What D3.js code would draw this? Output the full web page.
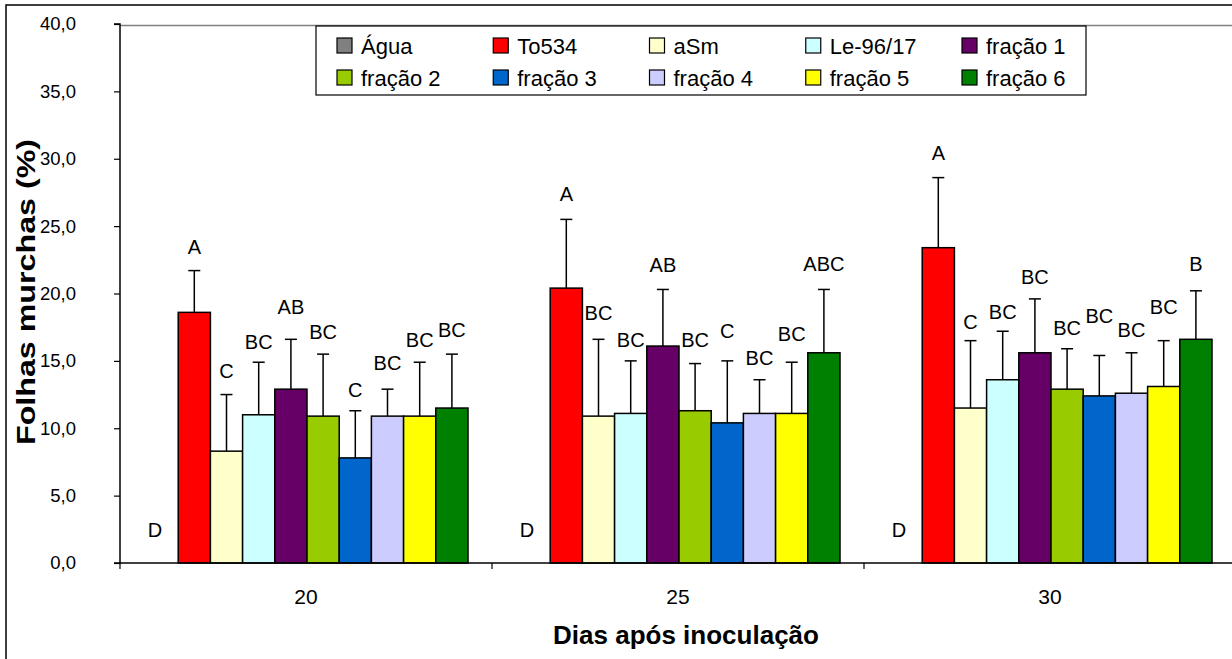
<!DOCTYPE html>
<html>
<head>
<meta charset="utf-8">
<script src="https://cdn.jsdelivr.net/npm/d3@7"></script>
<style>
  html, body { margin: 0; padding: 0; background: #fff; }
  svg { display: block; }
  text { font-family: "Liberation Sans", Arial, sans-serif; fill: #000; }
</style>
</head>
<body>
<svg id="chart" width="1232" height="659"></svg>
<script>
// Days after inoculation (groups)
const days = ["20", "25", "30"];

// Treatments (series)
const treatments = ["Água", "To534", "aSm", "Le-96/17", "fração 1",
                    "fração 2", "fração 3", "fração 4", "fração 5", "fração 6"];
const colors = ["#808080", "#FF0000", "#FFFFCC", "#CCFFFF", "#660066",
                "#99CC00", "#0066CC", "#CCCCFF", "#FFFF00", "#008000"];

// Wilted leaves (%) per treatment, one array per day
const wilt20 = [0, 18.6, 8.3, 11.0, 12.9, 10.9, 7.8, 10.9, 10.9, 11.5];
const wilt25 = [0, 20.4, 10.9, 11.1, 16.1, 11.3, 10.4, 11.1, 11.1, 15.6];
const wilt30 = [0, 23.4, 11.5, 13.6, 15.6, 12.9, 12.4, 12.6, 13.1, 16.6];

// Standard deviation (upper error bar)
const sd20 = [0, 3.1, 4.2, 3.9, 3.7, 4.6, 3.5, 2.0, 4.0, 4.0];
const sd25 = [0, 5.1, 5.7, 3.9, 4.2, 3.5, 4.6, 2.5, 3.8, 4.7];
const sd30 = [0, 5.2, 5.0, 3.6, 4.0, 3.0, 3.0, 3.0, 3.4, 3.6];

// Significance letters (Tukey) and the height (%) where each is written
const letters20 = ["D", "A", "C", "BC", "AB", "BC", "C", "BC", "BC", "BC"];
const letters25 = ["D", "A", "BC", "BC", "AB", "BC", "C", "BC", "BC", "ABC"];
const letters30 = ["D", "A", "C", "BC", "BC", "BC", "BC", "BC", "BC", "B"];
const letterAt20 = [1.9, 22.9, 13.7, 15.9, 18.5, 16.6, 12.3, 14.3, 16.0, 16.8];
const letterAt25 = [1.9, 26.9, 18.0, 16.05, 21.6, 16.05, 16.7, 14.7, 16.5, 21.7];
const letterAt30 = [1.9, 29.9, 17.4, 18.1, 20.7, 16.9, 17.8, 16.8, 18.5, 21.7];

const yTicks = [0, 5, 10, 15, 20, 25, 30, 35, 40];

const values = [wilt20, wilt25, wilt30];
const sds = [sd20, sd25, sd30];
const letters = [letters20, letters25, letters30];
const letterAt = [letterAt20, letterAt25, letterAt30];

const svg = d3.select("#chart");

// outer chart frame
svg.append("rect")
  .attr("x", 6).attr("y", 5).attr("width", 1240).attr("height", 670)
  .attr("fill", "#fff").attr("stroke", "#000").attr("stroke-width", 1.5);

const plot = { left: 120, right: 1236, top: 24, bottom: 563 };

const y = d3.scaleLinear().domain([0, 40]).range([plot.bottom, plot.top]);
const x0 = d3.scaleBand().domain(days).range([plot.left, plot.right]).padding(0);
const x1 = d3.scaleBand().domain(treatments)
  .range([26, x0.bandwidth() - 24]).padding(0);

// plot area top border
svg.append("line")
  .attr("x1", plot.left).attr("x2", 1232)
  .attr("y1", plot.top + 1.5).attr("y2", plot.top + 1.5)
  .attr("stroke", "#808080").attr("stroke-width", 1.5);

// bars
const groups = svg.append("g").selectAll("g")
  .data(days).join("g")
  .attr("transform", d => `translate(${x0(d)},0)`);

groups.each(function(day, gi) {
  const g = d3.select(this);
  const rows = treatments.map((t, i) => ({
    t, i, v: values[gi][i], sd: sds[gi][i], lab: letters[gi][i], at: letterAt[gi][i]
  }));

  g.selectAll("rect.bar").data(rows.filter(r => r.v > 0)).join("rect")
    .attr("class", "bar")
    .attr("x", r => x1(r.t))
    .attr("width", x1.bandwidth())
    .attr("y", r => y(r.v))
    .attr("height", r => y(0) - y(r.v))
    .attr("fill", r => colors[r.i])
    .attr("stroke", "#000").attr("stroke-width", 1.5);

  // upper error bars
  const eb = g.selectAll("g.err").data(rows.filter(r => r.sd > 0)).join("g")
    .attr("class", "err")
    .attr("stroke", "#000").attr("stroke-width", 1.5);
  eb.append("line")
    .attr("x1", r => x1(r.t) + x1.bandwidth() / 2)
    .attr("x2", r => x1(r.t) + x1.bandwidth() / 2)
    .attr("y1", r => y(r.v)).attr("y2", r => y(r.v + r.sd));
  eb.append("line")
    .attr("x1", r => x1(r.t) + x1.bandwidth() / 2 - 6)
    .attr("x2", r => x1(r.t) + x1.bandwidth() / 2 + 6)
    .attr("y1", r => y(r.v + r.sd)).attr("y2", r => y(r.v + r.sd));

  // letters
  g.selectAll("text.lab").data(rows).join("text")
    .attr("class", "lab")
    .attr("x", r => x1(r.t) + x1.bandwidth() / 2 - (r.v > 0 ? 0 : 7))
    .attr("y", r => y(r.at))
    .attr("text-anchor", "middle")
    .attr("font-size", 20)
    .text(r => r.lab);
});

// y axis
const yAxis = d3.axisLeft(y).tickValues(yTicks).tickSize(6).tickPadding(38)
  .tickFormat(d => d3.format(".1f")(d).replace(".", ","));
const ya = svg.append("g").attr("transform", `translate(${plot.left},0)`).call(yAxis);
ya.select(".domain").attr("stroke", "#000").attr("stroke-width", 1.5)
  .attr("d", `M-6,${plot.top}H0V${plot.bottom}H-6`);
ya.selectAll(".tick line").attr("stroke", "#000").attr("stroke-width", 1.2);
ya.selectAll(".tick text").attr("font-size", 18.5)
  .attr("font-family", "'Liberation Sans', Arial, sans-serif").attr("fill", "#000");

// x axis
const xa = svg.append("g").attr("transform", `translate(0,${plot.bottom})`)
  .call(d3.axisBottom(x0).tickSize(0).tickPadding(26));
xa.select(".domain").attr("stroke", "#000").attr("stroke-width", 1.5)
  .attr("d", `M${plot.left},0H1232`);
xa.selectAll(".tick text").attr("font-size", 21)
  .attr("font-family", "'Liberation Sans', Arial, sans-serif").attr("fill", "#000");
// category separators
svg.append("g").selectAll("line")
  .data(days).join("line")
  .attr("x1", d => x0(d)).attr("x2", d => x0(d))
  .attr("y1", plot.bottom).attr("y2", plot.bottom + 6)
  .attr("stroke", "#000").attr("stroke-width", 1.2);
svg.append("line")
  .attr("x1", x0("30") + x0.bandwidth()).attr("x2", x0("30") + x0.bandwidth())
  .attr("y1", plot.bottom).attr("y2", plot.bottom + 6)
  .attr("stroke", "#000");

// axis titles
svg.append("text")
  .attr("x", 686).attr("y", 644)
  .attr("text-anchor", "middle").attr("font-size", 26).attr("font-weight", "bold")
  .text("Dias após inoculação");
svg.append("text")
  .attr("transform", "translate(35,292) rotate(-90)")
  .attr("text-anchor", "middle").attr("font-size", 26).attr("font-weight", "bold")
  .attr("textLength", 306).attr("lengthAdjust", "spacingAndGlyphs")
  .text("Folhas murchas (%)");

// legend
const legend = svg.append("g");
legend.append("rect")
  .attr("x", 316).attr("y", 26).attr("width", 770).attr("height", 69)
  .attr("fill", "#fff").attr("stroke", "#000").attr("stroke-width", 1.2);
const colX = d3.scalePoint().domain(d3.range(5)).range([337, 962]);
const item = legend.selectAll("g.item").data(treatments).join("g")
  .attr("class", "item")
  .attr("transform", (d, i) => `translate(${colX(i % 5)},${i < 5 ? 38 : 70})`);
item.append("rect")
  .attr("width", 15).attr("height", 15)
  .attr("fill", (d, i) => colors[i]).attr("stroke", "#000").attr("stroke-width", 1.2);
item.append("text")
  .attr("x", 24).attr("y", 15.5)
  .attr("font-size", 22)
  .text(d => d);
</script>
</body>
</html>
